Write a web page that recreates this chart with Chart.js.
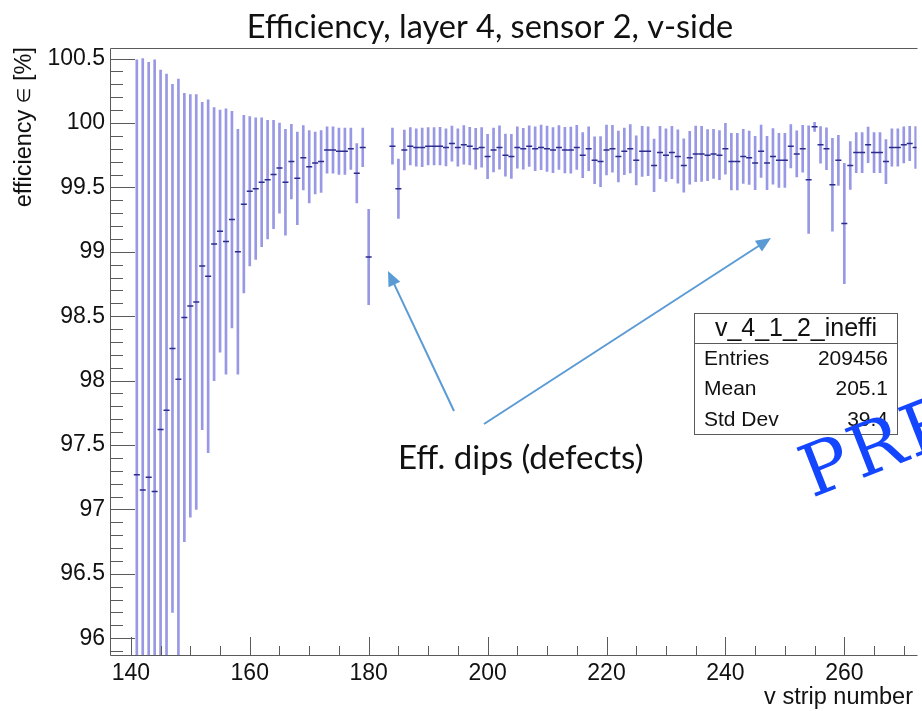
<!DOCTYPE html>
<html>
<head>
<meta charset="utf-8">
<script src="https://cdn.jsdelivr.net/npm/chart.js@4/dist/chart.umd.min.js"></script>
<style>
  html, body { margin: 0; padding: 0; background: #fff; overflow: hidden; }
  #wrap { width: 922px; height: 711px; }
</style>
</head>
<body>
<div id="wrap"><canvas id="c" width="922" height="711"></canvas></div>
<script>
// strip numbers (181-183 have no entries)
const strips = [
  141, 142, 143, 144, 145, 146, 147, 148, 149, 150,
  151, 152, 153, 154, 155, 156, 157, 158, 159, 160,
  161, 162, 163, 164, 165, 166, 167, 168, 169, 170,
  171, 172, 173, 174, 175, 176, 177, 178, 179, 180,
  184, 185, 186, 187, 188, 189, 190,
  191, 192, 193, 194, 195, 196, 197, 198, 199, 200,
  201, 202, 203, 204, 205, 206, 207, 208, 209, 210,
  211, 212, 213, 214, 215, 216, 217, 218, 219, 220,
  221, 222, 223, 224, 225, 226, 227, 228, 229, 230,
  231, 232, 233, 234, 235, 236, 237, 238, 239, 240,
  241, 242, 243, 244, 245, 246, 247, 248, 249, 250,
  251, 252, 253, 254, 255, 256, 257, 258, 259, 260,
  261, 262, 263, 264, 265, 266, 267, 268, 269, 270,
  271, 272
];

// efficiency in %
const efficiency = [
  97.27, 97.15, 97.25, 97.14, 97.62, 97.77, 98.25, 98.01, 98.49, 98.58,
  98.61, 98.89, 98.81, 99.06, 99.16, 99.08, 99.25, 99.00, 99.37, 99.47,
  99.49, 99.54, 99.56, 99.60, 99.65, 99.54, 99.70, 99.57, 99.73, 99.66,
  99.69, 99.70, 99.79, 99.79, 99.78, 99.78, 99.80, 99.61, 99.81, 98.96,
  99.82, 99.49, 99.79, 99.82, 99.81, 99.81, 99.82,
  99.82, 99.82, 99.81, 99.84, 99.81, 99.83, 99.82, 99.80, 99.81, 99.74,
  99.79, 99.81, 99.75, 99.74, 99.81, 99.80, 99.82, 99.80, 99.81, 99.80,
  99.79, 99.81, 99.79, 99.79, 99.81, 99.75, 99.80, 99.71, 99.70, 99.79,
  99.80, 99.74, 99.78, 99.80, 99.71, 99.78, 99.78, 99.67, 99.77, 99.75,
  99.77, 99.74, 99.67, 99.73, 99.76, 99.76, 99.75, 99.76, 99.75, 99.80,
  99.70, 99.70, 99.74, 99.73, 99.69, 99.78, 99.69, 99.74, 99.71, 99.71,
  99.82, 99.76, 99.80, 99.56, 99.97, 99.83, 99.80, 99.52, 99.71, 99.22,
  99.67, 99.77, 99.77, 99.83, 99.77, 99.77, 99.70, 99.81, 99.81, 99.83,
  99.84, 99.81
];

// symmetric error per strip, in %
const errors = [
  3.22, 3.35, 3.22, 3.35, 2.79, 2.61, 2.05, 2.33, 1.74, 1.64,
  1.61, 1.27, 1.37, 1.06, 0.94, 1.03, 0.84, 0.95, 0.69, 0.58,
  0.55, 0.50, 0.46, 0.42, 0.35, 0.41, 0.29, 0.36, 0.25, 0.28,
  0.24, 0.24, 0.18, 0.18, 0.18, 0.18, 0.16, 0.23, 0.15, 0.37,
  0.14, 0.23, 0.155, 0.145, 0.145, 0.15, 0.145,
  0.145, 0.146, 0.144, 0.136, 0.145, 0.149, 0.146, 0.158, 0.154, 0.172,
  0.17, 0.168, 0.163, 0.171, 0.16, 0.159, 0.158, 0.171, 0.173, 0.176,
  0.175, 0.17, 0.177, 0.179, 0.171, 0.175, 0.17, 0.182, 0.194, 0.194,
  0.182, 0.197, 0.181, 0.188, 0.19, 0.194, 0.19, 0.204, 0.203, 0.204,
  0.203, 0.207, 0.207, 0.206, 0.216, 0.213, 0.198, 0.19, 0.19, 0.198,
  0.22, 0.22, 0.21, 0.207, 0.207, 0.203, 0.207, 0.216, 0.21, 0.21,
  0.168, 0.179, 0.181, 0.417, 0.035, 0.142, 0.162, 0.36, 0.194, 0.467,
  0.186, 0.155, 0.155, 0.138, 0.155, 0.155, 0.171, 0.145, 0.145, 0.14,
  0.133, 0.162
];

const xTicks = [140, 160, 180, 200, 220, 240, 260];
const yTicks = [96, 96.5, 97, 97.5, 98, 98.5, 99, 99.5, 100, 100.5];
const yTickLabels = ['96', '96.5', '97', '97.5', '98', '98.5', '99', '99.5', '100', '100.5'];

const titleText = 'Efficiency, layer 4, sensor 2, v-side';
const xTitle = 'v strip number';
const yTitleParts = ['efficiency ', '\u2208', ' [%]'];
const statsTitle = 'v_4_1_2_ineffi';
const statsNames = ['Entries', 'Mean', 'Std Dev'];
const statsValues = ['209456', '205.1', '39.4'];
const noteText = 'Eff. dips (defects)';
const watermark = 'PRELIMINARY';

const AXIS_FONT = '"Liberation Sans", Arimo, Arial, sans-serif';
const AXIS_COLOR = '#5a5a5a';

// error bars as floating bars, central values as short line markers
const errorBars = strips.map((s, i) => ({x: s, y: [efficiency[i] - errors[i], efficiency[i] + errors[i]]}));
const centers = strips.map((s, i) => ({x: s, y: efficiency[i]}));

function arrow(ctx, x1, y1, x2, y2) {
  const a = Math.atan2(y2 - y1, x2 - x1);
  const len = 15, half = 6.5;
  ctx.beginPath();
  ctx.moveTo(x1, y1);
  ctx.lineTo(x2 - Math.cos(a) * len * 0.8, y2 - Math.sin(a) * len * 0.8);
  ctx.stroke();
  ctx.beginPath();
  ctx.moveTo(x2, y2);
  ctx.lineTo(x2 - Math.cos(a) * len - Math.sin(a) * half, y2 - Math.sin(a) * len + Math.cos(a) * half);
  ctx.lineTo(x2 - Math.cos(a) * len + Math.sin(a) * half, y2 - Math.sin(a) * len - Math.cos(a) * half);
  ctx.closePath();
  ctx.fill();
}

// ROOT-like frame with inward ticks
const rootFrame = {
  id: 'rootFrame',
  afterDatasetsDraw(chart) {
    const {ctx, chartArea: a, scales: {x, y}} = chart;
    ctx.save();
    ctx.strokeStyle = AXIS_COLOR;
    ctx.lineWidth = 1;
    ctx.beginPath();
    ctx.moveTo(a.right + 1, a.top + 0.5);
    ctx.lineTo(a.left - 0.5, a.top + 0.5);
    ctx.lineTo(a.left - 0.5, a.bottom + 0.5);
    ctx.lineTo(a.right + 1, a.bottom + 0.5);
    ctx.stroke();

    ctx.beginPath();
    for (let k = 959; k <= 1005; k++) {
      const v = k / 10;
      if (v < y.min || v > y.max) continue;
      const py = Math.round(y.getPixelForValue(v)) + 0.5;
      const major = k % 5 === 0;
      ctx.moveTo(a.left, py);
      ctx.lineTo(a.left + (major ? 24 : 12), py);
    }
    for (let v = 140; v <= x.max; v += 5) {
      const px = Math.round(x.getPixelForValue(v)) + 0.5;
      const major = v % 20 === 0;
      ctx.moveTo(px, a.bottom);
      ctx.lineTo(px, a.bottom - (major ? 18 : 9));
    }
    ctx.stroke();
    ctx.restore();
  },
  afterDraw(chart) {
    const {ctx} = chart;
    ctx.save();
    ctx.fillStyle = '#111';

    // title
    ctx.font = '32.5px Lato, sans-serif';
    ctx.textAlign = 'center';
    ctx.textBaseline = 'middle';
    ctx.fillText(titleText, 490, 28);

    // axis titles
    ctx.font = '23.5px ' + AXIS_FONT;
    ctx.textAlign = 'right';
    ctx.fillText(xTitle, 913, 698);

    // y title, right-aligned at the top of the axis; the "element of" sign a bit smaller
    ctx.save();
    ctx.translate(25, 47);
    ctx.rotate(-Math.PI / 2);
    ctx.textAlign = 'left';
    const fonts = ['23.5px ' + AXIS_FONT, '18px "DejaVu Sans", sans-serif', '23.5px ' + AXIS_FONT];
    const widths = yTitleParts.map((t, i) => { ctx.font = fonts[i]; return ctx.measureText(t).width; });
    let pos = -widths.reduce((s, w) => s + w, 0);
    yTitleParts.forEach((t, i) => {
      ctx.font = fonts[i];
      ctx.fillText(t, pos, 0);
      pos += widths[i];
    });
    ctx.restore();

    // stats box
    ctx.fillStyle = '#fff';
    ctx.fillRect(695, 313, 203, 121);
    ctx.strokeStyle = AXIS_COLOR;
    ctx.lineWidth = 1;
    ctx.strokeRect(694.5, 313.5, 203, 121);
    ctx.beginPath();
    ctx.moveTo(694.5, 343.5);
    ctx.lineTo(897.5, 343.5);
    ctx.stroke();
    ctx.fillStyle = '#111';
    ctx.font = '25px ' + AXIS_FONT;
    ctx.textAlign = 'center';
    ctx.fillText(statsTitle, 796, 329);
    ctx.font = '21px ' + AXIS_FONT;
    statsNames.forEach((n, i) => {
      const yy = 359 + i * 30.5;
      ctx.textAlign = 'left';
      ctx.fillText(n, 704, yy);
      ctx.textAlign = 'right';
      ctx.fillText(statsValues[i], 888, yy);
    });

    // annotation
    ctx.font = '33px Lato, sans-serif';
    ctx.textAlign = 'left';
    ctx.fillText(noteText, 398, 458);
    ctx.strokeStyle = '#5b9bd5';
    ctx.fillStyle = '#5b9bd5';
    ctx.lineWidth = 2;
    arrow(ctx, 454, 411, 388, 271);
    arrow(ctx, 484, 424, 771, 238);

    // watermark
    ctx.translate(812, 498);
    ctx.rotate(-21.4 * Math.PI / 180);
    ctx.fillStyle = 'rgb(20, 70, 255)';
    ctx.font = '72px "DejaVu Serif", serif';
    ctx.textAlign = 'left';
    ctx.textBaseline = 'alphabetic';
    ctx.letterSpacing = '3px';
    ctx.fillText(watermark, 0, 0);
    ctx.restore();
  }
};

new Chart(document.getElementById('c'), {
  type: 'bar',
  data: {
    datasets: [
      {
        type: 'line',
        label: 'efficiency',
        data: centers,
        showLine: false,
        pointStyle: 'line',
        pointRadius: 3,
        pointBorderWidth: 1.5,
        pointBorderColor: '#2b2b8c',
        pointBackgroundColor: '#2b2b8c',
        clip: 0,
        order: 0
      },
      {
        type: 'bar',
        label: 'error',
        data: errorBars,
        backgroundColor: 'rgb(152, 152, 228)',
        borderWidth: 0,
        barThickness: 2,
        grouped: false,
        clip: 0,
        order: 1
      }
    ]
  },
  options: {
    responsive: false,
    animation: false,
    devicePixelRatio: 1,
    layout: {padding: {top: 48, left: 0, right: 0, bottom: 0}},
    plugins: {legend: {display: false}, tooltip: {enabled: false}, title: {display: false}},
    scales: {
      x: {
        type: 'linear',
        offset: false,
        min: 136.66,
        max: 272.14,
        afterBuildTicks: s => { s.ticks = xTicks.map(v => ({value: v})); },
        afterFit: s => { s.height = 56; },
        grid: {display: false, drawTicks: false, offset: false},
        border: {display: false},
        ticks: {
          font: {family: AXIS_FONT, size: 23},
          color: '#111',
          padding: 5,
          maxRotation: 0,
          autoSkip: false,
          callback: v => String(v)
        }
      },
      y: {
        type: 'linear',
        min: 95.87,
        max: 100.582,
        afterBuildTicks: s => { s.ticks = yTicks.map(v => ({value: v})); },
        afterFit: s => { s.width = 111; },
        grid: {display: false, drawTicks: false},
        border: {display: false},
        ticks: {
          font: {family: AXIS_FONT, size: 23},
          color: '#111',
          padding: 6,
          autoSkip: false,
          callback: v => yTickLabels[yTicks.indexOf(v)]
        }
      }
    }
  },
  plugins: [rootFrame]
});
</script>
</body>
</html>
